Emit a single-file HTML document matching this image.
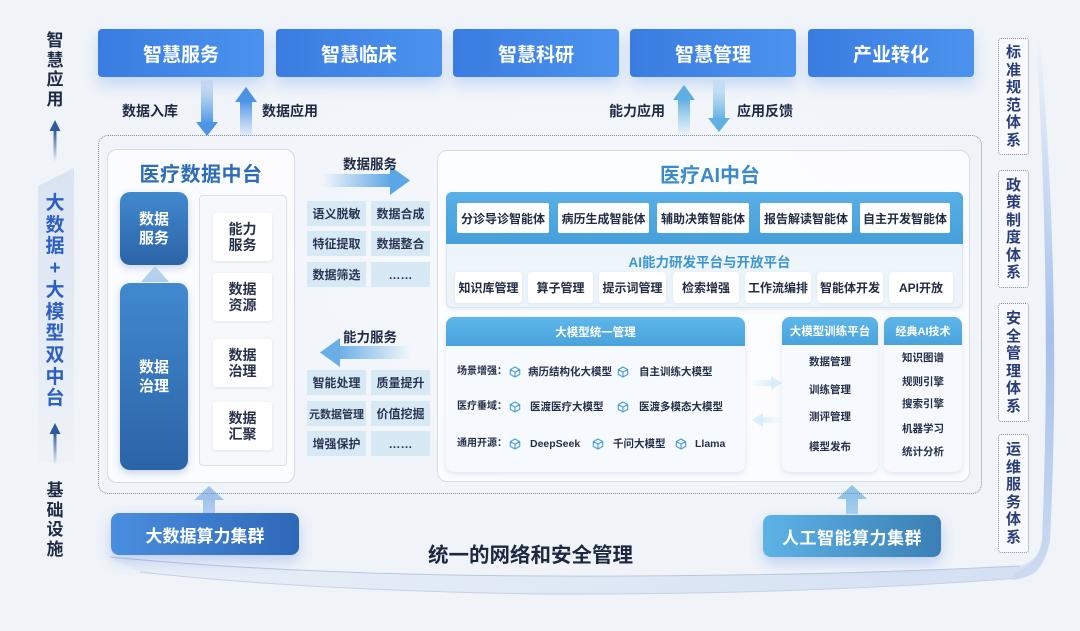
<!DOCTYPE html>
<html><head><meta charset="utf-8">
<style>
*{margin:0;padding:0;box-sizing:border-box}
body{width:1080px;height:631px;overflow:hidden;background:#f0f4f9;font-family:"Liberation Sans","Noto Sans CJK SC",sans-serif;font-weight:700;position:relative}
.a{position:absolute}
.c{display:flex;align-items:center;justify-content:center;text-align:center}
.tb{top:29px;height:48px;width:166px;border-radius:4px;background:linear-gradient(90deg,#3a7ce0,#4b93ee);color:#fff;font-size:19px;box-shadow:0 8px 14px rgba(70,130,230,.25)}
.lb{font-size:14px;color:#1f2a44;line-height:16px}
.vt{text-align:center;color:#1f2a44;font-size:17px;line-height:19.5px}
.rb{left:998px;width:31px;border:1.5px dotted #7d8ca6;border-radius:3px;background:rgba(255,255,255,.45);color:#2a3d78;font-size:15px;line-height:17.5px;display:flex;align-items:center;justify-content:center;text-align:center}
.panel{border:1.5px solid #d3dce8;border-radius:10px;background:rgba(255,255,255,.72)}
.dk{left:120px;width:68px;border-radius:10px;background:linear-gradient(180deg,#4189cf,#2c63a6);color:#fff;font-size:15px;line-height:19px;box-shadow:0 3px 8px rgba(40,90,160,.25)}
.wb{left:213px;width:59px;height:48px;background:#fff;border-radius:3px;color:#27324a;font-size:14px;line-height:16px;box-shadow:0 1px 3px rgba(120,140,170,.18)}
.gc{height:25px;width:59px;background:#d8e9f6;color:#2a3552;font-size:12px}
.ag{top:203px;height:30px;background:#fff;border-radius:2px;color:#222c44;font-size:12px}
.rw{top:272px;height:31px;background:#fff;border-radius:3px;color:#222c44;font-size:12px;box-shadow:0 1px 3px rgba(120,150,190,.15)}
.sm{font-size:10.5px;color:#25304a;line-height:12px;white-space:nowrap}
.lab{font-size:10px;color:#25304a;line-height:12px;white-space:nowrap}
.hd{color:#fff;background:linear-gradient(180deg,#5db7ea,#4aa2dc);border-radius:8px 8px 0 0}
</style></head>
<body>

<svg class="a" style="left:0;top:0" width="1080" height="631">
  <defs>
    <linearGradient id="re" x1="0" y1="0" x2="0" y2="1">
      <stop offset="0" stop-color="#eef3fa"/>
      <stop offset=".55" stop-color="#a6c0ea"/>
      <stop offset="1" stop-color="#cddbf1"/>
    </linearGradient>
    <linearGradient id="bb" x1="0" y1="0" x2="1" y2="0">
      <stop offset="0" stop-color="#e9eff8"/>
      <stop offset=".5" stop-color="#dfe8f5"/>
      <stop offset="1" stop-color="#d3e0f3"/>
    </linearGradient>
    <linearGradient id="lband" x1="0" y1="0" x2="0" y2="1">
      <stop offset="0" stop-color="#d9e3f1"/>
      <stop offset="1" stop-color="#eef2f8"/>
    </linearGradient>
    <linearGradient id="ar1" x1="0" y1="0" x2="0" y2="1">
      <stop offset="0" stop-color="#2d5a9c"/>
      <stop offset="1" stop-color="#2d5a9c" stop-opacity="0"/>
    </linearGradient>
    <linearGradient id="dn" x1="0" y1="0" x2="0" y2="1">
      <stop offset="0" stop-color="#6aa8ec" stop-opacity=".1"/>
      <stop offset="1" stop-color="#4d94e4"/>
    </linearGradient>
    <linearGradient id="up" x1="0" y1="0" x2="0" y2="1">
      <stop offset="0" stop-color="#4d94e4"/>
      <stop offset="1" stop-color="#6aa8ec" stop-opacity=".1"/>
    </linearGradient>
    <linearGradient id="dn2" x1="0" y1="0" x2="0" y2="1">
      <stop offset="0" stop-color="#7cc0ea" stop-opacity=".1"/>
      <stop offset="1" stop-color="#5fb0e3"/>
    </linearGradient>
    <linearGradient id="up2" x1="0" y1="0" x2="0" y2="1">
      <stop offset="0" stop-color="#5fb0e3"/>
      <stop offset="1" stop-color="#7cc0ea" stop-opacity=".1"/>
    </linearGradient>
    <linearGradient id="rt" x1="0" y1="0" x2="1" y2="0">
      <stop offset="0" stop-color="#5aa6e6" stop-opacity="0"/>
      <stop offset="1" stop-color="#5aa6e6"/>
    </linearGradient>
    <linearGradient id="lt" x1="0" y1="0" x2="1" y2="0">
      <stop offset="0" stop-color="#6aaee6"/>
      <stop offset="1" stop-color="#6aaee6" stop-opacity="0"/>
    </linearGradient>
    <linearGradient id="rt2" x1="0" y1="0" x2="1" y2="0">
      <stop offset="0" stop-color="#8ccaf0" stop-opacity=".1"/>
      <stop offset="1" stop-color="#7cc2ee"/>
    </linearGradient>
    <linearGradient id="lt2" x1="0" y1="0" x2="1" y2="0">
      <stop offset="0" stop-color="#7cc2ee"/>
      <stop offset="1" stop-color="#8ccaf0" stop-opacity=".1"/>
    </linearGradient>
    <linearGradient id="bu" x1="0" y1="0" x2="0" y2="1">
      <stop offset="0" stop-color="#9fc2ec"/>
      <stop offset="1" stop-color="#b7d0f0"/>
    </linearGradient>
    <linearGradient id="bu2" x1="0" y1="0" x2="0" y2="1">
      <stop offset="0" stop-color="#8fc4e8"/>
      <stop offset="1" stop-color="#a9d2ee"/>
    </linearGradient>
    <radialGradient id="glow" cx=".5" cy=".45" r=".6">
      <stop offset="0" stop-color="#f8fafd"/>
      <stop offset="1" stop-color="#f0f4f9" stop-opacity="0"/>
    </radialGradient>
  </defs>
  <rect x="80" y="0" width="980" height="580" fill="url(#glow)"/>
  <!-- bottom thick band -->
  <path d="M110,557 Q300,575 540,576 Q800,577 1020,566 Q1040,560 1044,540 Q1048,575 1020,578 Q800,595 540,594 Q300,590 140,572 Z" fill="url(#bb)"/>
  <path d="M110,557 Q300,575 540,576 Q800,577 1020,566" fill="none" stroke="#b9c8dd" stroke-width="1"/>
  <path d="M140,572 Q300,590 540,594 Q800,595 1020,578" fill="none" stroke="#c4d1e3" stroke-width="1"/>
  <!-- right blue edge -->
  <path d="M1040,38 Q1062,300 1050,540 Q1044,578 1012,580 L1014,573 Q1038,566 1042,540 Q1052,300 1036,38 Z" fill="url(#re)"/>

  <polygon points="38,186 74,168 74,462 38,462" fill="url(#lband)"/>
  <rect x="53.5" y="130" width="3" height="32" fill="url(#ar1)"/>
  <polygon points="49.5,131 55,120 60.5,131" fill="#2d5a9c"/>
  <rect x="53.5" y="433" width="3" height="32" fill="url(#ar1)"/>
  <polygon points="49.5,434 55,423 60.5,434" fill="#2d5a9c"/>

  <rect x="201" y="80" width="12" height="44" fill="url(#dn)"/>
  <polygon points="196,122 218,122 207,136" fill="#4d94e4"/>
  <rect x="240" y="101" width="12" height="35" fill="url(#up)"/>
  <polygon points="235,102 257,102 246,87" fill="#4d94e4"/>
  <rect x="678" y="99" width="12" height="35" fill="url(#up2)"/>
  <polygon points="673,100 695,100 684,85" fill="#5fb0e3"/>
  <rect x="713" y="80" width="12" height="40" fill="url(#dn2)"/>
  <polygon points="708,118 730,118 719,132" fill="#5fb0e3"/>

  <rect x="322" y="174" width="70" height="13" fill="url(#rt)"/>
  <polygon points="390,166 410,180.5 390,195" fill="#5aa6e6"/>
  <rect x="338" y="346" width="72" height="13" fill="url(#lt)"/>
  <polygon points="340,338 320,352.5 340,367" fill="#6aaee6"/>

  <rect x="752" y="380" width="20" height="6" fill="url(#rt2)"/>
  <polygon points="771,376 782,383 771,390" fill="#7cc2ee"/>
  <rect x="762" y="417" width="20" height="6" fill="url(#lt2)"/>
  <polygon points="763,413 752,420 763,427" fill="#7cc2ee"/>

  <rect x="203" y="498" width="12" height="16" fill="url(#bu)"/>
  <polygon points="194,500 224,500 209,486" fill="#9fc2ec"/>
  <rect x="846" y="497" width="12" height="17" fill="url(#bu2)"/>
  <polygon points="837,499 867,499 852,485" fill="#8fc4e8"/>
</svg>

<div class="a vt" style="left:45px;top:31px;width:20px">智<br>慧<br>应<br>用</div>
<div class="a" style="left:44px;top:193px;width:22px;text-align:center;color:#2c5fc4;font-size:19px;line-height:21.7px">大<br>数<br>据<br>+<br>大<br>模<br>型<br>双<br>中<br>台</div>
<div class="a vt" style="left:45px;top:481px;width:20px">基<br>础<br>设<br>施</div>

<div class="a c tb" style="left:98px">智慧服务</div>
<div class="a c tb" style="left:276px">智慧临床</div>
<div class="a c tb" style="left:453px">智慧科研</div>
<div class="a c tb" style="left:630px">智慧管理</div>
<div class="a c tb" style="left:808px">产业转化</div>

<div class="a lb" style="left:122px;top:103px">数据入库</div>
<div class="a lb" style="left:262px;top:103px">数据应用</div>
<div class="a lb" style="left:609px;top:103px">能力应用</div>
<div class="a lb" style="left:737px;top:103px">应用反馈</div>

<div class="a" style="left:98px;top:135px;width:884px;height:359px;border:1.6px dotted #7f8ca2;border-radius:10px"></div>

<div class="a panel" style="left:107px;top:149px;width:188px;height:334px"></div>
<div class="a c" style="left:107px;top:160px;width:188px;height:25px;font-size:20px;color:#2f6cb8;letter-spacing:.5px">医疗数据中台</div>
<div class="a c dk" style="top:192px;height:73px">数据<br>服务</div>
<div class="a" style="left:141px;top:266px;width:0;height:0;border-left:14px solid transparent;border-right:14px solid transparent;border-bottom:16px solid #b5d0ec"></div>
<div class="a c dk" style="top:283px;height:187px">数据<br>治理</div>
<div class="a" style="left:199px;top:195px;width:88px;height:271px;border:1px solid #d9e0ea;border-radius:4px;background:#f6f8fb"></div>
<div class="a c wb" style="top:213px">能力<br>服务</div>
<div class="a c wb" style="top:273px">数据<br>资源</div>
<div class="a c wb" style="top:339px">数据<br>治理</div>
<div class="a c wb" style="top:402px">数据<br>汇聚</div>

<div class="a" style="left:343px;top:153px;font-size:13.5px;color:#1f2a44">数据服务</div>
<div class="a c gc" style="left:307px;top:201px">语义脱敏</div>
<div class="a c gc" style="left:371px;top:201px">数据合成</div>
<div class="a c gc" style="left:307px;top:231px">特征提取</div>
<div class="a c gc" style="left:371px;top:231px">数据整合</div>
<div class="a c gc" style="left:307px;top:262px">数据筛选</div>
<div class="a c gc" style="left:371px;top:262px">……</div>

<div class="a" style="left:343px;top:326px;font-size:13.5px;color:#1f2a44">能力服务</div>
<div class="a c gc" style="left:307px;top:370px">智能处理</div>
<div class="a c gc" style="left:371px;top:370px">质量提升</div>
<div class="a c gc" style="left:307px;top:401px;font-size:11px">元数据管理</div>
<div class="a c gc" style="left:371px;top:401px">价值挖掘</div>
<div class="a c gc" style="left:307px;top:431px">增强保护</div>
<div class="a c gc" style="left:371px;top:431px">……</div>

<div class="a panel" style="left:437px;top:150px;width:533px;height:332px"></div>
<div class="a c" style="left:437px;top:160px;width:546px;height:26px;font-size:20px;color:#3b8bcb">医疗AI中台</div>
<div class="a" style="left:446px;top:192px;width:517px;height:116px;border-radius:6px;background:#edf5fb;border:1px solid #d8e4ef;box-shadow:0 2px 5px rgba(120,150,190,.15)"></div>
<div class="a" style="left:446px;top:192px;width:517px;height:52px;border-radius:6px 6px 0 0;background:linear-gradient(180deg,#58b0e6,#469fda)"></div>
<div class="a c ag" style="left:457px;width:92px">分诊导诊智能体</div>
<div class="a c ag" style="left:558px;width:91px">病历生成智能体</div>
<div class="a c ag" style="left:657px;width:92px">辅助决策智能体</div>
<div class="a c ag" style="left:760px;width:92px">报告解读智能体</div>
<div class="a c ag" style="left:860px;width:90px">自主开发智能体</div>
<div class="a c" style="left:446px;top:251px;width:527px;height:20px;font-size:13.5px;color:#3d95d2">AI能力研发平台与开放平台</div>
<div class="a c rw" style="left:455px;width:67px">知识库管理</div>
<div class="a c rw" style="left:528px;width:65px">算子管理</div>
<div class="a c rw" style="left:599px;width:67px">提示词管理</div>
<div class="a c rw" style="left:673px;width:66px">检索增强</div>
<div class="a c rw" style="left:745px;width:66px">工作流编排</div>
<div class="a c rw" style="left:817px;width:66px">智能体开发</div>
<div class="a c rw" style="left:889px;width:64px">API开放</div>

<div class="a" style="left:446px;top:317px;width:299px;height:155px;border-radius:8px;background:#f6f9fd;box-shadow:0 2px 6px rgba(110,140,180,.2)"></div>
<div class="a c hd" style="left:446px;top:317px;width:299px;height:29px;font-size:11.5px">大模型统一管理</div>

<svg width="0" height="0" style="position:absolute">
  <defs>
    <symbol id="cube" viewBox="0 0 14 14"><path d="M7 1.2L12.5 4.2V9.8L7 12.8L1.5 9.8V4.2Z M1.5 4.2L7 7.2L12.5 4.2 M7 7.2V12.8" fill="none" stroke="#4a9fd6" stroke-width="1.3" stroke-linejoin="round"/></symbol>
  </defs>
</svg>

<div class="a lab" style="left:457px;top:366px">场景增强：</div>
<svg class="a" style="left:509px;top:366px" width="12" height="12"><use href="#cube"/></svg>
<div class="a sm" style="left:528px;top:366px">病历结构化大模型</div>
<svg class="a" style="left:617px;top:366px" width="12" height="12"><use href="#cube"/></svg>
<div class="a sm" style="left:639px;top:366px">自主训练大模型</div>

<div class="a lab" style="left:457px;top:401px">医疗垂域：</div>
<svg class="a" style="left:509px;top:401px" width="12" height="12"><use href="#cube"/></svg>
<div class="a sm" style="left:530px;top:401px">医渡医疗大模型</div>
<svg class="a" style="left:617px;top:401px" width="12" height="12"><use href="#cube"/></svg>
<div class="a sm" style="left:639px;top:401px">医渡多模态大模型</div>

<div class="a lab" style="left:457px;top:438px">通用开源：</div>
<svg class="a" style="left:509px;top:438px" width="12" height="12"><use href="#cube"/></svg>
<div class="a sm" style="left:530px;top:438px">DeepSeek</div>
<svg class="a" style="left:592px;top:438px" width="12" height="12"><use href="#cube"/></svg>
<div class="a sm" style="left:613px;top:438px">千问大模型</div>
<svg class="a" style="left:675px;top:438px" width="12" height="12"><use href="#cube"/></svg>
<div class="a sm" style="left:695px;top:438px">Llama</div>

<div class="a" style="left:782px;top:317px;width:96px;height:155px;border-radius:8px;background:#f6f9fd;box-shadow:0 2px 6px rgba(110,140,180,.2)"></div>
<div class="a c hd" style="left:782px;top:317px;width:96px;height:28px;font-size:11.5px">大模型训练平台</div>
<div class="a c sm" style="left:782px;top:356px;width:96px">数据管理</div>
<div class="a c sm" style="left:782px;top:384px;width:96px">训练管理</div>
<div class="a c sm" style="left:782px;top:411px;width:96px">测评管理</div>
<div class="a c sm" style="left:782px;top:441px;width:96px">模型发布</div>

<div class="a" style="left:884px;top:317px;width:78px;height:155px;border-radius:8px;background:#f6f9fd;box-shadow:0 2px 6px rgba(110,140,180,.2)"></div>
<div class="a c hd" style="left:884px;top:317px;width:78px;height:28px;font-size:11px">经典AI技术</div>
<div class="a c sm" style="left:884px;top:352px;width:78px">知识图谱</div>
<div class="a c sm" style="left:884px;top:376px;width:78px">规则引擎</div>
<div class="a c sm" style="left:884px;top:398px;width:78px">搜索引擎</div>
<div class="a c sm" style="left:884px;top:423px;width:78px">机器学习</div>
<div class="a c sm" style="left:884px;top:446px;width:78px">统计分析</div>

<div class="a c" style="left:111px;top:513px;width:188px;height:42px;border-radius:8px;background:linear-gradient(90deg,#4a8fdf,#2f67b8);color:#fff;font-size:17px;box-shadow:0 6px 14px rgba(70,120,220,.3)">大数据算力集群</div>
<div class="a c" style="left:763px;top:515px;width:178px;height:42px;border-radius:8px;background:linear-gradient(90deg,#5db3e6,#3a7fb6);color:#fff;font-size:17px;letter-spacing:.5px;box-shadow:0 6px 14px rgba(70,120,220,.3)">人工智能算力集群</div>
<div class="a" style="left:428px;top:538px;font-size:20.5px;color:#1d2840;white-space:nowrap">统一的网络和安全管理</div>

<div class="a rb" style="top:38px;height:117px">标<br>准<br>规<br>范<br>体<br>系</div>
<div class="a rb" style="top:170px;height:118px">政<br>策<br>制<br>度<br>体<br>系</div>
<div class="a rb" style="top:303px;height:119px">安<br>全<br>管<br>理<br>体<br>系</div>
<div class="a rb" style="top:434px;height:119px">运<br>维<br>服<br>务<br>体<br>系</div>

</body></html>
